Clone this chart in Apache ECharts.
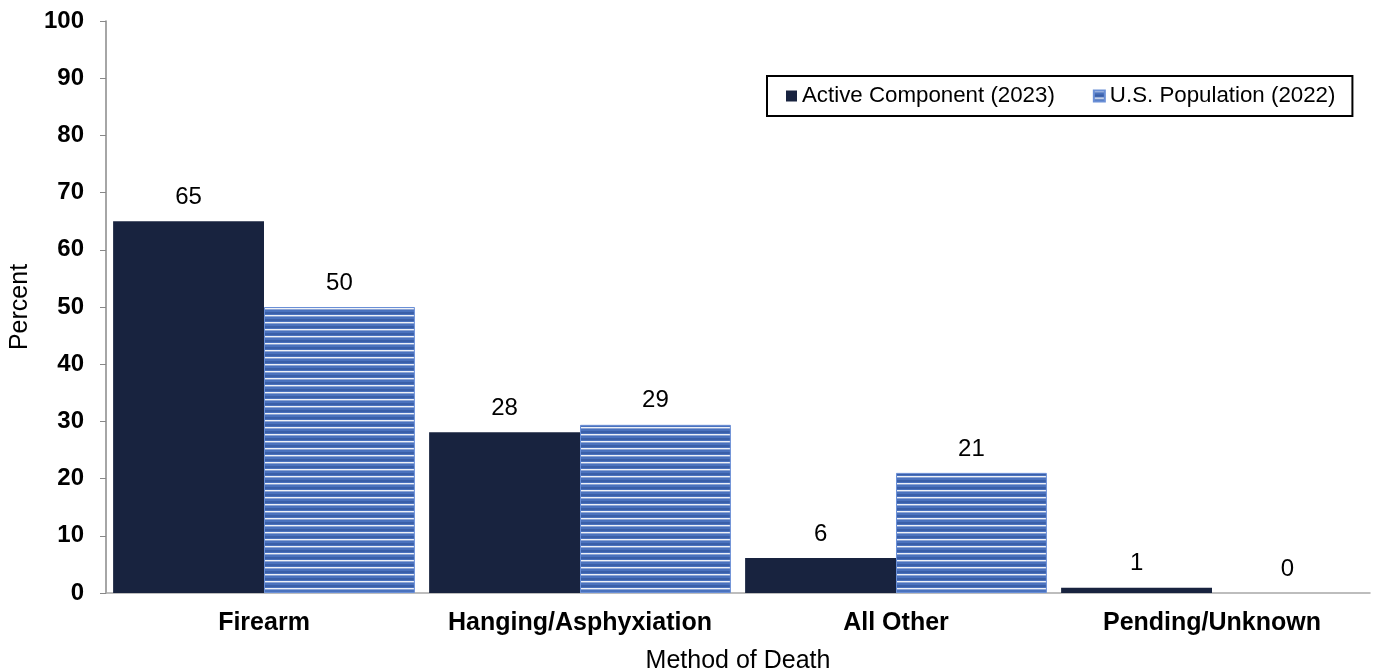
<!DOCTYPE html>
<html><head><meta charset="utf-8">
<script src="https://cdn.jsdelivr.net/npm/echarts@6/dist/echarts.min.js"></script>
<style>html,body{margin:0;padding:0;background:#fff}#c{width:1374px;height:670px}</style>
</head><body><div id="c"></div>
<script>
const categories = ['Firearm', 'Hanging/Asphyxiation', 'All Other', 'Pending/Unknown'];
const activeComponent = [65, 28.1, 6.1, 0.9];
const activeLabels = ['65', '28', '6', '1'];
const usPopulation = [50, 29.4, 21, 0];
const usLabels = ['50', '29', '21', '0'];
const yTicks = [0, 10, 20, 30, 40, 50, 60, 70, 80, 90, 100];

const pc = document.createElement('canvas');
pc.width = 8; pc.height = 7;
const g = pc.getContext('2d');
g.fillStyle = '#4a72be'; g.fillRect(0, 0, 8, 7);
g.fillStyle = '#3a5fa8'; g.fillRect(0, 4, 8, 2);
g.fillStyle = '#eef1f7'; g.fillRect(0, 0, 8, 1.4);

const chart = echarts.init(document.getElementById('c'));
const F = 'Liberation Sans, Arial, sans-serif';
chart.setOption({
  animation: false,
  grid: { left: 106, right: 4, top: 21, bottom: 77, outerBoundsMode: 'none', containLabel: false },
  legend: {
    left: 767, top: 76,
    padding: [9, 17, 9, 19],
    borderColor: '#000', borderWidth: 2,
    icon: 'rect',
    itemWidth: 11, itemHeight: 11, itemGap: 38,
    textStyle: { fontFamily: F, fontSize: 22.3, color: '#000' },
    data: ['Active Component (2023)', 'U.S. Population (2022)']
  },
  xAxis: {
    type: 'category', data: categories,
    name: 'Method of Death', nameLocation: 'middle', nameGap: 56,
    nameTextStyle: { fontFamily: F, fontSize: 25, color: '#000' },
    axisLine: { lineStyle: { color: '#a8a8a8', width: 1.5 } },
    axisTick: { alignWithLabel: true, length: 6, lineStyle: { color: '#a8a8a8' } },
    axisLabel: { interval: 0, hideOverlap: false, fontFamily: F, fontSize: 25, fontWeight: 'bold', color: '#000', margin: 18 }
  },
  yAxis: {
    type: 'value', min: 0, max: 100, interval: 10,
    name: 'Percent', nameLocation: 'middle', nameGap: 73, nameRotate: 90,
    nameTextStyle: { fontFamily: F, fontSize: 25, color: '#000' },
    axisLine: { show: true, lineStyle: { color: '#888', width: 1.5 } },
    axisTick: { show: true, length: 6, lineStyle: { color: '#888' } },
    splitLine: { show: false },
    axisLabel: { fontFamily: F, fontSize: 24, fontWeight: 'bold', color: '#000', margin: 22,
      formatter: v => yTicks.includes(v) ? String(v) : '' }
  },
  series: [
    {
      name: 'Active Component (2023)', type: 'bar', data: activeComponent,
      barGap: '0%', barCategoryGap: '4.5%',
      itemStyle: { color: '#18233f' },
      label: { show: true, position: 'top', distance: 12, fontFamily: F, fontSize: 24, color: '#000',
        formatter: p => activeLabels[p.dataIndex] }
    },
    {
      name: 'U.S. Population (2022)', type: 'bar',
      data: usPopulation.map(v => v === 0 ? { value: v, itemStyle: { borderWidth: 0 } } : v),
      itemStyle: { color: { image: pc, repeat: 'repeat' }, borderColor: '#6a8fd6', borderWidth: 1 },
      label: { show: true, position: 'top', distance: 12, fontFamily: F, fontSize: 24, color: '#000',
        formatter: p => usLabels[p.dataIndex] }
    }
  ]
});
</script></body></html>
